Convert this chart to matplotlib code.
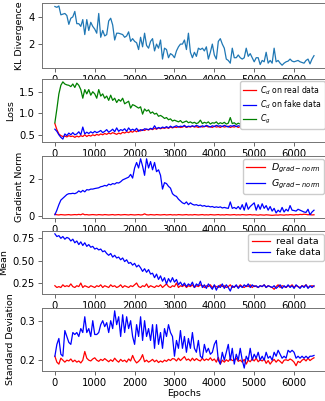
import numpy as np
import matplotlib
matplotlib.use("Agg")
import matplotlib.pyplot as plt

# values, one sample every 50 epochs (0 .. 6500)
kl_div = [4.76, 4.70, 4.80, 4.15, 4.20, 4.25, 4.10, 3.45, 3.90, 4.00,
          4.40, 3.50, 3.50, 3.30, 3.80, 2.70, 3.80, 3.00, 3.60, 3.30,
          3.10, 2.80, 4.25, 2.50, 3.00, 2.60, 2.70, 3.70, 3.90, 3.40,
          2.30, 2.80, 2.80, 2.75, 2.70, 2.50, 2.60, 2.90, 2.20, 2.40,
          2.20, 2.10, 1.60, 2.50, 1.80, 2.80, 1.90, 1.70, 2.20, 2.40,
          1.50, 2.00, 1.70, 2.30, 0.90, 1.70, 1.60, 1.00, 1.30, 1.20,
          1.00, 1.50, 1.80, 2.00, 2.00, 2.30, 1.60, 2.80, 1.40, 1.00,
          1.40, 1.10, 1.70, 1.60, 1.70, 1.50, 1.80, 0.90, 1.40, 2.00,
          1.20, 0.90, 2.20, 2.40, 2.00, 1.70, 0.90, 0.80, 0.60, 1.70,
          1.00, 1.00, 1.20, 1.00, 0.90, 1.00, 1.70, 1.10, 1.30, 1.00,
          0.70, 1.00, 1.00, 0.50, 0.80, 0.70, 1.40, 0.60, 0.80, 0.60,
          1.70, 0.70, 0.80, 0.60, 0.45, 0.60, 0.70, 0.75, 0.90, 0.75,
          0.70, 0.75, 0.80, 0.70, 0.65, 0.60, 0.80, 0.90, 0.55, 0.90,
          1.15]

loss_g = [0.78, 1.10, 1.45, 1.65, 1.73, 1.68, 1.66, 1.65, 1.62, 1.68,
          1.60, 1.70, 1.65, 1.55, 1.35, 1.55, 1.45, 1.55, 1.42, 1.50,
          1.45, 1.35, 1.55, 1.40, 1.45, 1.35, 1.40, 1.30, 1.42, 1.30,
          1.35, 1.25, 1.32, 1.28, 1.35, 1.22, 1.25, 1.28, 1.12, 1.20,
          1.18, 1.15, 1.12, 1.15, 0.98, 1.10, 1.05, 1.08, 1.00, 1.03,
          0.98, 1.00, 0.93, 0.95, 0.92, 0.88, 0.90, 0.85, 0.87, 0.82,
          0.84, 0.82, 0.80, 0.83, 0.78, 0.80, 0.82, 0.78, 0.80, 0.77,
          0.79, 0.76, 0.78, 0.84, 0.76, 0.79, 0.77, 0.80, 0.75, 0.78,
          0.77, 0.80, 0.75, 0.78, 0.76, 0.79, 0.75, 0.77, 0.90, 0.76,
          0.78, 0.74, 0.77, 0.75, 0.79, 0.74, 0.77, 0.75, 0.78, 0.74,
          0.76, 0.73, 0.76, 0.74, 0.77, 0.73, 0.75, 0.74, 0.80, 0.72,
          0.74, 0.71, 0.73, 0.72, 0.74, 0.71, 0.73, 0.72, 0.74, 0.71,
          0.73, 0.71, 0.72, 0.70, 0.73, 0.71, 0.72, 0.70, 0.72, 0.71,
          0.70]

loss_d_real = [0.76, 0.62, 0.52, 0.48, 0.46, 0.47, 0.45, 0.48, 0.46, 0.47,
               0.44, 0.47, 0.45, 0.48, 0.46, 0.50, 0.46, 0.49, 0.47, 0.50,
               0.48, 0.51, 0.49, 0.52, 0.50, 0.53, 0.51, 0.54, 0.52, 0.55,
               0.53, 0.51, 0.54, 0.52, 0.56, 0.54, 0.57, 0.55, 0.58, 0.56,
               0.60, 0.57, 0.61, 0.59, 0.62, 0.60, 0.63, 0.61, 0.64, 0.62,
               0.65, 0.63, 0.66, 0.64, 0.66, 0.65, 0.67, 0.65, 0.68, 0.66,
               0.68, 0.67, 0.69, 0.67, 0.68, 0.70, 0.67, 0.69, 0.68, 0.70,
               0.68, 0.69, 0.67, 0.70, 0.68, 0.69, 0.70, 0.68, 0.69, 0.67,
               0.70, 0.68, 0.69, 0.67, 0.70, 0.68, 0.69, 0.70, 0.67, 0.69,
               0.68, 0.70, 0.67, 0.69, 0.68, 0.70, 0.68, 0.69, 0.67, 0.70,
               0.68, 0.69, 0.67, 0.70, 0.68, 0.69, 0.68, 0.70, 0.67, 0.69,
               0.68, 0.70, 0.66, 0.69, 0.68, 0.70, 0.68, 0.69, 0.67, 0.70,
               0.68, 0.69, 0.67, 0.70, 0.68, 0.69, 0.68, 0.70, 0.67, 0.69,
               0.67]

loss_d_fake = [0.63, 0.58, 0.50, 0.44, 0.40, 0.52, 0.48, 0.54, 0.50, 0.55,
               0.50, 0.52, 0.57, 0.50, 0.68, 0.52, 0.56, 0.53, 0.57, 0.54,
               0.58, 0.55, 0.57, 0.60, 0.55, 0.58, 0.62, 0.56, 0.59, 0.63,
               0.57, 0.66, 0.58, 0.62, 0.60, 0.64, 0.58, 0.66, 0.60, 0.63,
               0.60, 0.65, 0.58, 0.62, 0.60, 0.64, 0.63, 0.62, 0.65, 0.63,
               0.71, 0.64, 0.67, 0.65, 0.68, 0.66, 0.69, 0.66, 0.70, 0.67,
               0.69, 0.71, 0.68, 0.70, 0.69, 0.72, 0.68, 0.70, 0.69, 0.71,
               0.69, 0.72, 0.70, 0.68, 0.71, 0.69, 0.72, 0.70, 0.68, 0.71,
               0.69, 0.72, 0.70, 0.71, 0.69, 0.72, 0.70, 0.68, 0.71, 0.70,
               0.72, 0.69, 0.71, 0.70, 0.72, 0.69, 0.71, 0.70, 0.72, 0.69,
               0.71, 0.70, 0.72, 0.69, 0.71, 0.70, 0.72, 0.69, 0.71, 0.70,
               0.72, 0.69, 0.71, 0.70, 0.72, 0.69, 0.71, 0.70, 0.69, 0.71,
               0.70, 0.72, 0.69, 0.71, 0.70, 0.69, 0.71, 0.70, 0.72, 0.70,
               0.69]

grad_d = [0.08, 0.05, 0.04, 0.06, 0.05, 0.04, 0.05, 0.06, 0.04, 0.05,
          0.06, 0.05, 0.07, 0.05, 0.10, 0.05, 0.06, 0.04, 0.05, 0.06,
          0.05, 0.04, 0.06, 0.05, 0.04, 0.06, 0.05, 0.04, 0.05, 0.06,
          0.04, 0.05, 0.06, 0.04, 0.05, 0.06, 0.05, 0.04, 0.06, 0.05,
          0.04, 0.05, 0.06, 0.04, 0.05, 0.10, 0.05, 0.04, 0.06, 0.05,
          0.04, 0.06, 0.05, 0.04, 0.05, 0.06, 0.04, 0.05, 0.06, 0.04,
          0.05, 0.04, 0.06, 0.05, 0.04, 0.05, 0.06, 0.04, 0.05, 0.04,
          0.06, 0.05, 0.04, 0.05, 0.06, 0.04, 0.05, 0.04, 0.06, 0.05,
          0.04, 0.05, 0.06, 0.04, 0.05, 0.04, 0.06, 0.05, 0.04, 0.05,
          0.06, 0.04, 0.05, 0.04, 0.06, 0.05, 0.04, 0.05, 0.06, 0.04,
          0.05, 0.04, 0.03, 0.05, 0.04, 0.03, 0.05, 0.04, 0.03, 0.02,
          0.03, 0.04, 0.03, 0.05, 0.04, 0.03, 0.05, 0.04, 0.06, 0.05,
          0.04, 0.06, 0.05, 0.07, 0.06, 0.08, 0.07, 0.05, 0.06, 0.04,
          0.05]

grad_g = [0.05, 0.30, 0.60, 0.85, 0.95, 1.05, 1.15, 1.20, 1.20, 1.22,
          1.20, 1.25, 1.35, 1.28, 1.38, 1.30, 1.42, 1.40, 1.45, 1.45,
          1.48, 1.50, 1.52, 1.58, 1.60, 1.65, 1.62, 1.72, 1.68, 1.75,
          1.72, 1.80, 1.78, 1.85, 1.95, 2.00, 2.05, 2.10, 2.25, 2.05,
          2.60, 2.90, 2.60, 3.10, 2.70, 2.20, 3.10, 2.60, 2.95, 2.50,
          2.90, 2.40, 2.50, 2.20, 1.45, 1.80, 1.75, 1.60, 1.50, 1.20,
          1.10, 1.05, 0.90, 0.80, 0.70, 0.65, 0.75, 0.60, 0.70, 0.62,
          0.58, 0.60, 0.55, 0.58, 0.52, 0.55, 0.50, 0.52, 0.48, 0.50,
          0.45, 0.48, 0.45, 0.48, 0.42, 0.45, 0.42, 0.40, 0.75, 0.40,
          0.45, 0.38, 0.50, 0.35, 0.60, 0.30, 0.70, 0.35, 0.50, 0.60,
          0.70, 0.30, 0.60, 0.35, 0.65, 0.40, 0.55, 0.30, 0.50, 0.25,
          0.40, 0.15, 0.30, 0.20, 0.45, 0.20, 0.35, 0.25, 0.55, 0.30,
          0.28, 0.25, 0.35, 0.30, 0.25, 0.20, 0.18, 0.35, 0.05, 0.20,
          0.30]

mean_real = [0.22, 0.20, 0.21, 0.20, 0.23, 0.21, 0.22, 0.21, 0.24, 0.21,
             0.20, 0.22, 0.21, 0.25, 0.20, 0.22, 0.21, 0.20, 0.22, 0.21,
             0.20, 0.22, 0.21, 0.23, 0.20, 0.22, 0.21, 0.20, 0.23, 0.21,
             0.22, 0.20, 0.21, 0.23, 0.20, 0.22, 0.21, 0.20, 0.22, 0.21,
             0.23, 0.25, 0.21, 0.20, 0.22, 0.21, 0.24, 0.20, 0.22, 0.21,
             0.20, 0.22, 0.21, 0.23, 0.20, 0.22, 0.24, 0.21, 0.20, 0.22,
             0.21, 0.25, 0.20, 0.22, 0.21, 0.23, 0.20, 0.22, 0.21, 0.23,
             0.20, 0.22, 0.21, 0.23, 0.22, 0.20, 0.22, 0.21, 0.23, 0.20,
             0.22, 0.21, 0.20, 0.23, 0.21, 0.22, 0.20, 0.21, 0.23, 0.20,
             0.21, 0.22, 0.20, 0.23, 0.21, 0.20, 0.22, 0.21, 0.23, 0.20,
             0.22, 0.21, 0.20, 0.22, 0.21, 0.23, 0.20, 0.22, 0.21, 0.20,
             0.18, 0.21, 0.23, 0.20, 0.22, 0.21, 0.20, 0.22, 0.21, 0.23,
             0.20, 0.22, 0.21, 0.20, 0.22, 0.21, 0.23, 0.20, 0.21, 0.22,
             0.21]

mean_fake = [0.80, 0.77, 0.78, 0.75, 0.77, 0.74, 0.76, 0.75, 0.72, 0.74,
             0.70, 0.72, 0.68, 0.71, 0.67, 0.70, 0.66, 0.68, 0.65, 0.66,
             0.63, 0.64, 0.62, 0.63, 0.60, 0.61, 0.58, 0.56, 0.58, 0.54,
             0.56, 0.53, 0.54, 0.51, 0.53, 0.49, 0.51, 0.47, 0.48, 0.45,
             0.47, 0.43, 0.45, 0.42, 0.38, 0.41, 0.37, 0.40, 0.35, 0.36,
             0.31, 0.35, 0.29, 0.33, 0.27, 0.31, 0.24, 0.30, 0.26, 0.31,
             0.26, 0.29, 0.23, 0.26, 0.22, 0.25, 0.21, 0.24, 0.22, 0.26,
             0.20, 0.24, 0.22, 0.27, 0.20, 0.23, 0.19, 0.24, 0.21, 0.18,
             0.23, 0.17, 0.22, 0.20, 0.24, 0.19, 0.23, 0.20, 0.16, 0.22,
             0.20, 0.23, 0.19, 0.22, 0.20, 0.23, 0.21, 0.24, 0.20, 0.23,
             0.21, 0.22, 0.20, 0.22, 0.21, 0.23, 0.20, 0.22, 0.21, 0.20,
             0.22, 0.19, 0.21, 0.23, 0.19, 0.22, 0.20, 0.23, 0.20, 0.22,
             0.19, 0.23, 0.21, 0.19, 0.22, 0.20, 0.23, 0.19, 0.22, 0.20,
             0.22]

std_real = [0.210, 0.195, 0.190, 0.205, 0.200, 0.195, 0.200, 0.198, 0.203, 0.196,
            0.200, 0.195, 0.198, 0.193, 0.200, 0.222, 0.205, 0.200, 0.198, 0.203,
            0.206, 0.200, 0.197, 0.202, 0.199, 0.204, 0.200, 0.196, 0.201, 0.197,
            0.205, 0.199, 0.195, 0.202, 0.197, 0.200, 0.195, 0.203, 0.198, 0.212,
            0.200, 0.193, 0.197, 0.203, 0.214, 0.196, 0.200, 0.195, 0.198, 0.202,
            0.196, 0.200, 0.194, 0.198, 0.195, 0.200, 0.197, 0.202, 0.199, 0.204,
            0.203, 0.198, 0.205, 0.199, 0.204, 0.209, 0.200, 0.203, 0.198, 0.205,
            0.199, 0.204, 0.200, 0.198, 0.205, 0.199, 0.203, 0.200, 0.206, 0.199,
            0.203, 0.195, 0.207, 0.190, 0.200, 0.195, 0.201, 0.197, 0.204, 0.199,
            0.200, 0.205, 0.197, 0.200, 0.195, 0.202, 0.190, 0.200, 0.196, 0.203,
            0.198, 0.205, 0.196, 0.201, 0.198, 0.203, 0.192, 0.199, 0.190, 0.197,
            0.202, 0.195, 0.201, 0.197, 0.192, 0.200, 0.201, 0.199, 0.203, 0.200,
            0.195, 0.186, 0.197, 0.194, 0.200, 0.203, 0.198, 0.205, 0.199, 0.203,
            0.206]

std_fake = [0.210, 0.240, 0.255, 0.215, 0.210, 0.275, 0.260, 0.245, 0.240, 0.270,
            0.265, 0.270, 0.260, 0.280, 0.270, 0.310, 0.270, 0.280, 0.260, 0.300,
            0.265, 0.265, 0.270, 0.290, 0.300, 0.285, 0.295, 0.270, 0.300, 0.280,
            0.325, 0.290, 0.310, 0.260, 0.315, 0.270, 0.310, 0.280, 0.300, 0.260,
            0.240, 0.290, 0.260, 0.310, 0.250, 0.300, 0.260, 0.280, 0.250, 0.290,
            0.230, 0.290, 0.240, 0.270, 0.230, 0.280, 0.260, 0.290, 0.270, 0.260,
            0.210, 0.250, 0.230, 0.275, 0.230, 0.260, 0.220, 0.255, 0.230, 0.270,
            0.230, 0.220, 0.250, 0.210, 0.205, 0.240, 0.220, 0.230, 0.215, 0.220,
            0.240, 0.250, 0.200, 0.190, 0.220, 0.200, 0.220, 0.240, 0.200, 0.230,
            0.190, 0.215, 0.200, 0.230, 0.200, 0.180, 0.210, 0.200, 0.230, 0.200,
            0.215, 0.205, 0.220, 0.200, 0.210, 0.200, 0.220, 0.205, 0.210, 0.200,
            0.220, 0.210, 0.225, 0.215, 0.205, 0.210, 0.205, 0.225, 0.220, 0.225,
            0.220, 0.205, 0.210, 0.205, 0.210, 0.205, 0.210, 0.205, 0.210, 0.210,
            0.212]

epochs = np.linspace(0, 6500, len(kl_div))

plt.rcParams['font.family'] = 'DejaVu Sans'
TICK_FS = 7.2
LAB_FS = 6.8
LW = 0.9

fig = plt.figure(figsize=(3.25, 4.01), dpi=100)
left, width = 0.129, 0.877
boxes = [(0.830, 0.1625), (0.646, 0.157), (0.456, 0.155), (0.267, 0.157), (0.075, 0.157)]
axes = [fig.add_axes([left, b, width, h]) for b, h in boxes]

axes[0].plot(epochs, kl_div, c='C0', lw=LW)
axes[0].set_ylabel('KL Divergence', fontsize=LAB_FS)
axes[0].set_yticks([2, 4])

axes[1].plot(epochs, loss_d_real, c='r', lw=LW, label='$C_d$ on real data')
axes[1].plot(epochs, loss_d_fake, c='b', lw=LW, label='$C_d$ on fake data')
axes[1].plot(epochs, loss_g, c='g', lw=LW, label='$C_g$')
axes[1].set_ylabel('Loss', fontsize=LAB_FS)
axes[1].set_yticks([0.5, 1.0, 1.5])

axes[2].plot(epochs, grad_d, c='r', lw=LW, label='$D_{grad-norm}$')
axes[2].plot(epochs, grad_g, c='b', lw=LW, label='$G_{grad-norm}$')
axes[2].set_ylabel('Gradient Norm', fontsize=LAB_FS)
axes[2].set_yticks([0, 2])

axes[3].plot(epochs, mean_real, c='r', lw=LW, label='real data')
axes[3].plot(epochs, mean_fake, c='b', lw=LW, label='fake data')
axes[3].set_ylabel('Mean', fontsize=LAB_FS)
axes[3].set_yticks([0.25, 0.50, 0.75])

axes[4].plot(epochs, std_real, c='r', lw=LW)
axes[4].plot(epochs, std_fake, c='b', lw=LW)
axes[4].set_ylabel('Standard Deviation', fontsize=LAB_FS)
axes[4].set_yticks([0.2, 0.3])
axes[4].set_xlabel('Epochs', fontsize=LAB_FS, labelpad=1)

for ax in axes:
    ax.set_xlim(-325, 6825)
    ax.set_xticks(range(0, 6001, 1000))
    ax.tick_params(labelsize=TICK_FS, length=3, width=0.6, pad=2, color='0.3')
    for s in ax.spines.values():
        s.set_color('0.45')
        s.set_linewidth(0.7)
    ax.yaxis.labelpad = 3

leg_kw = dict(loc='upper right', framealpha=1, edgecolor='0.8', borderpad=0.35,
              labelspacing=0.25, handletextpad=0.6, borderaxespad=0.3)
axes[1].legend(fontsize=5.6, handlelength=1.6, **leg_kw)
axes[2].legend(fontsize=6.8, handlelength=2.0, **leg_kw)
axes[3].legend(fontsize=6.8, handlelength=2.0, **leg_kw)

fig.savefig('out.png', dpi=100)
